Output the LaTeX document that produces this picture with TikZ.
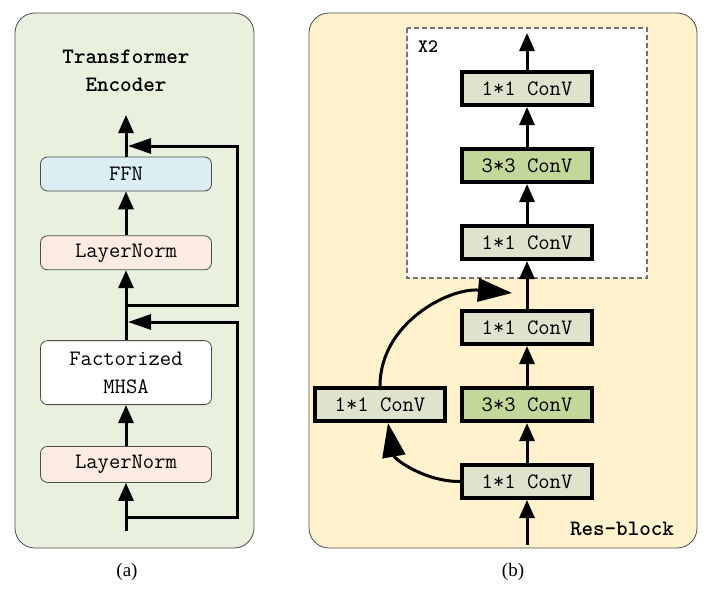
\documentclass[tikz,border=0pt]{standalone}
\usepackage{fontspec}
\setmainfont{Liberation Serif}
\usepackage{xcolor}
\usetikzlibrary{arrows.meta}
\usetikzlibrary{positioning}
\definecolor{encbg}{HTML}{EAF0DE}
\definecolor{resbg}{HTML}{FFF2CC}
\definecolor{ffnfill}{HTML}{DBEEF4}
\definecolor{normfill}{HTML}{FCEBE0}
\definecolor{convgray}{HTML}{DDE3CD}
\definecolor{convgreen}{HTML}{C4D79B}
\tikzset{
  panel/.style={draw=black!70, line width=0.8pt, rounded corners=20pt},
  enc box/.style={
    draw=black!70, line width=0.8pt, rounded corners=7pt,
    minimum width=171pt, minimum height=34pt, inner sep=0pt,
    align=center, font=\fontsize{22}{28}\selectfont\ttfamily,
  },
  conv box/.style={
    draw, line width=4pt, fill=convgray,
    minimum width=130pt, minimum height=33pt, inner sep=0pt,
    font=\fontsize{22}{24}\selectfont\ttfamily,
  },
  flow edge/.style={line width=3pt, -{Triangle[length=18pt,width=15pt]}},
  skip edge/.style={line width=3pt, -{Triangle[length=23pt,width=15pt]}},
  bend edge/.style={line width=3pt, -{Triangle[length=34pt,width=23pt]}},
}

\begin{document}
\begin{tikzpicture}[x=1pt, y=-1pt]
  \useasboundingbox (0,0) rectangle (708,594);

  % Panels
  \draw[panel, fill=encbg] (15,13) rectangle (254,548);
  \draw[panel, fill=resbg] (309,13) rectangle (697,548);
  \draw[dashed, dash pattern=on 5pt off 3pt, draw=black!55, fill=white, line width=1.2pt]
    (407,28) rectangle (647,278);

  % Define nodes (a)
  \node[font=\fontsize{22}{28}\selectfont\ttfamily\bfseries, align=center]
    (title) at (126,71) {Transformer\\Encoder};
  \node[enc box, fill=ffnfill] (ffn) at (126,174) {FFN};
  \node[enc box, fill=normfill, below=44pt of ffn] (norm_2) {LayerNorm};
  \node[enc box, fill=white, minimum height=64pt, below=70pt of norm_2] (mhsa) {Factorized\\MHSA};
  \node[enc box, fill=normfill, minimum height=36pt, below=41pt of mhsa] (norm_1) {LayerNorm};

  \coordinate (enc_in) at (126,531);
  \coordinate (enc_out) at (126,115);
  \coordinate (res_1a) at (126,517);
  \coordinate (res_1b) at (128,322);
  \coordinate (res_2a) at (126,305);
  \coordinate (res_2b) at (128,146);

  \node[font=\fontsize{19}{22}\selectfont] (cap_a) at (127,572) {(a)};

  % Define nodes (b)
  \node[font=\fontsize{19}{20}\selectfont\ttfamily\bfseries] (rep) at (428,47) {X2};
  \node[conv box] (conv_1) at (527,88.5) {1*1 ConV};
  \node[conv box, fill=convgreen, below=40pt of conv_1] (conv_2) {3*3 ConV};
  \node[conv box, below=40pt of conv_2] (conv_3) {1*1 ConV};

  \node[conv box] (conv_4) at (527,327.5) {1*1 ConV};
  \node[conv box, fill=convgreen, below=40pt of conv_4] (conv_5) {3*3 ConV};
  \node[conv box, below=40pt of conv_5] (conv_6) {1*1 ConV};
  \node[conv box, left=13pt of conv_5] (conv_side) {1*1 ConV};

  \coordinate (res_in) at (527,545);
  \coordinate (res_out) at (527,33);
  \coordinate (merge) at (512,293);

  \node[font=\fontsize{22}{24}\selectfont\ttfamily\bfseries] (blk) at (622,529) {Res-block};
  \node[font=\fontsize{19}{22}\selectfont] (cap_b) at (513,572) {(b)};

  % Connect nodes (a)
  \draw[flow edge] (enc_in) -- (norm_1);
  \draw[flow edge] (norm_1) -- (mhsa);
  \draw[flow edge] (mhsa) -- (norm_2);
  \draw[flow edge] (norm_2) -- (ffn);
  \draw[flow edge] (ffn) -- (enc_out);

  \draw[skip edge] (res_1a) -- ++(111,0) |- (res_1b);
  \draw[skip edge] (res_2a) -- ++(111,0) |- (res_2b);

  % Connect nodes (b)
  \draw[flow edge] (res_in) -- (conv_6);
  \draw[flow edge] (conv_6) -- (conv_5);
  \draw[flow edge] (conv_5) -- (conv_4);
  \draw[flow edge] (conv_4) -- (conv_3);
  \draw[flow edge] (conv_3) -- (conv_2);
  \draw[flow edge] (conv_2) -- (conv_1);
  \draw[flow edge] (conv_1) -- (res_out);

  \draw[bend edge] (conv_6.west) to[out=180, in=-80] ([xshift=8pt]conv_side.south);
  \draw[bend edge] (conv_side.north) to[out=90, in=175] (merge);

\end{tikzpicture}
\end{document}
